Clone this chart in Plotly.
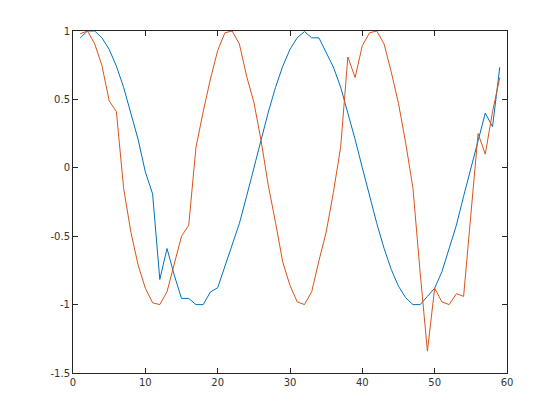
import plotly.graph_objects as go

x_vals = list(range(1, 60))

blue_vals = [0.95, 1.0, 1.0, 0.95, 0.866, 0.743, 0.588, 0.407, 0.208, -0.03,
             -0.19, -0.816, -0.59, -0.785, -0.955, -0.955, -1.0, -1.0, -0.907, -0.877,
             -0.72, -0.57, -0.407, -0.208, 0.0, 0.208, 0.407, 0.588, 0.743, 0.866,
             0.951, 0.996, 0.95, 0.95, 0.845, 0.736, 0.59, 0.407, 0.208, 0.0,
             -0.208, -0.407, -0.588, -0.743, -0.866, -0.95, -1.0, -1.0, -0.94, -0.88,
             -0.76, -0.588, -0.42, -0.208, 0.0, 0.208, 0.40, 0.30, 0.736]

orange_vals = [0.98, 1.0, 0.906, 0.748, 0.49, 0.41, -0.15, -0.47, -0.71, -0.88,
               -0.987, -1.0, -0.906, -0.71, -0.50, -0.42, 0.15, 0.41, 0.65, 0.857,
               0.987, 1.0, 0.906, 0.67, 0.48, 0.2, -0.13, -0.4, -0.69, -0.86,
               -0.98, -1.0, -0.906, -0.68, -0.47, -0.18, 0.15, 0.81, 0.66, 0.894,
               0.987, 1.0, 0.906, 0.70, 0.47, 0.18, -0.15, -0.77, -1.34, -0.88,
               -0.98, -1.0, -0.92, -0.94, -0.35, 0.25, 0.10, 0.41, 0.66]

x_ticks = [0, 10, 20, 30, 40, 50, 60]
y_ticks = [-1.5, -1, -0.5, 0, 0.5, 1]

fig = go.Figure()
fig.add_trace(go.Scatter(x=x_vals, y=blue_vals, mode="lines",
                         line=dict(color="#0072BD", width=1)))
fig.add_trace(go.Scatter(x=x_vals, y=orange_vals, mode="lines",
                         line=dict(color="#D95319", width=1)))

axis_common = dict(showgrid=False, zeroline=False, showline=True, linecolor="#262626",
                   linewidth=1, mirror="ticks", ticks="inside", ticklen=5,
                   tickcolor="#262626", tickwidth=1,
                   tickfont=dict(family="DejaVu Sans", size=10, color="#333333"))

fig.update_layout(
    width=560, height=420,
    margin=dict(l=65, r=61, t=23, b=55),
    paper_bgcolor="white", plot_bgcolor="white",
    showlegend=False,
    xaxis=dict(range=[0, 60], tickvals=x_ticks, ticktext=[str(v) for v in x_ticks], **axis_common),
    yaxis=dict(range=[-1.5, 1], tickvals=y_ticks, ticktext=[str(v) for v in y_ticks], **axis_common),
)

fig.write_html("out.html")
